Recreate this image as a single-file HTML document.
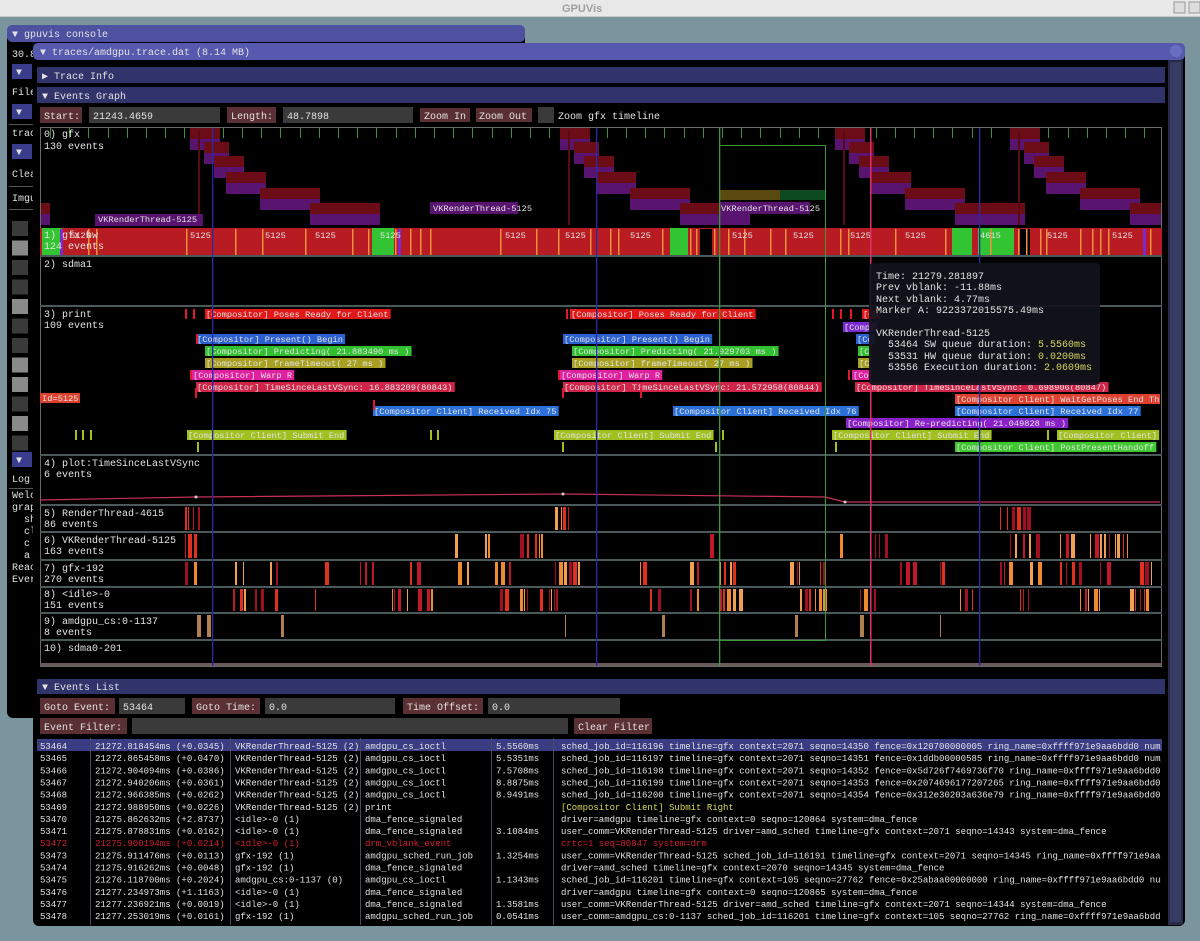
<!DOCTYPE html>
<html><head><meta charset="utf-8"><style>
html,body{margin:0;padding:0;background:#7a959d;width:1200px;height:941px;overflow:hidden}
svg{display:block}
text{font-family:"Liberation Mono",monospace;font-size:10px;fill:#e2e2e2}
.s{font-size:8.7px}
.t{font-size:9px}
</style></head><body>
<svg id="sv" width="1200" height="941" xmlns="http://www.w3.org/2000/svg">
<defs><clipPath id="tc"><rect x="37" y="738" width="1124" height="187"/></clipPath></defs>
<rect width="1200" height="941" fill="#7a959d"/>
<rect width="1200" height="17" fill="#e8e8e8"/>
<rect y="16" width="1200" height="1" fill="#c8c8c8"/>
<text x="562" y="12" style="font-family:'Liberation Sans',sans-serif;font-size:11px;font-weight:bold;fill:#a0a0a0">GPUVis</text>
<rect x="1174" y="2" width="11" height="11" fill="#ddd" stroke="#999"/><rect x="1189" y="2" width="11" height="11" fill="#ddd" stroke="#999"/>

<rect x="7" y="25" width="518" height="693" rx="6" fill="#000"/>
<rect x="7" y="25" width="518" height="17" rx="5" fill="#4d51a0"/>
<text x="12" y="37">▼ gpuvis console</text>
<text x="12" y="57">30.8</text>
<rect x="12" y="64" width="20" height="15" fill="#3a3d8e"/><text x="16" y="75">▼</text>
<text x="12" y="95">File</text>
<rect x="12" y="104" width="20" height="15" fill="#3a3d8e"/><text x="16" y="115">▼</text>
<rect x="9" y="124" width="24" height="1" fill="#555"/>
<text x="12" y="136">trac</text>
<rect x="12" y="144" width="20" height="15" fill="#3a3d8e"/><text x="16" y="155">▼</text>
<text x="12" y="177">Clea</text>
<rect x="9" y="186" width="24" height="1" fill="#555"/>
<text x="12" y="201">Imgu</text>
<rect x="9" y="209" width="24" height="1" fill="#555"/>
<g id="cbs"></g>
<rect x="12" y="452" width="20" height="15" fill="#3a3d8e"/><text x="16" y="463">▼</text>
<text x="12" y="482">Log</text>
<rect x="9" y="488" width="24" height="1" fill="#555"/>
<text x="12" y="498">Welc</text><text x="12" y="510">grap</text><text x="24" y="522">sh</text><text x="24" y="534">cl</text><text x="24" y="546">c</text><text x="24" y="558">a</text><text x="12" y="570">Reac</text><text x="12" y="582">Ever</text>

<rect x="33" y="43" width="1152" height="883" rx="6" fill="#000"/>
<rect x="33" y="43" width="1152" height="17" rx="5" fill="#5659ad"/>
<circle cx="1176" cy="51" r="6" fill="#6a6ec0"/>
<text x="40" y="55">▼ traces/amdgpu.trace.dat (8.14 MB)</text>
<rect x="1168" y="60" width="15" height="865" fill="#272b48"/>
<rect x="1170" y="62" width="11" height="860" fill="#363b62"/>
<rect x="37" y="67" width="1128" height="16" fill="#31336b"/>
<text x="42" y="79">▶ Trace Info</text>
<rect x="37" y="87" width="1128" height="16" fill="#31336b"/>
<text x="42" y="99">▼ Events Graph</text>
<rect x="40" y="107" width="42" height="16" fill="#5a3034"/><text x="44" y="119">Start:</text>
<rect x="89" y="107" width="131" height="16" fill="#3a3a3a"/><text x="93" y="119">21243.4659</text>
<rect x="227" y="107" width="49" height="16" fill="#5a3034"/><text x="231" y="119">Length:</text>
<rect x="283" y="107" width="130" height="16" fill="#3a3a3a"/><text x="287" y="119">48.7898</text>
<rect x="420" y="108" width="50" height="14" fill="#5a3034"/><text x="424" y="119">Zoom In</text>
<rect x="476" y="108" width="56" height="14" fill="#5a3034"/><text x="479" y="119">Zoom Out</text>
<rect x="538" y="107" width="16" height="16" fill="#3a3a3a"/><text x="558" y="119">Zoom gfx timeline</text>

<rect x="40.5" y="127.5" width="1121" height="539" fill="#000" stroke="#6a6a6a"/>
<g id="g0"></g>
<rect x="40" y="228" width="1122" height="27" fill="#b81b22"/>
<g id="hw"></g>
<g fill="#4a5a5a">
<rect x="40" y="255" width="1122" height="2"/><rect x="40" y="305" width="1122" height="2"/><rect x="40" y="454" width="1122" height="2"/><rect x="40" y="504" width="1122" height="2"/><rect x="40" y="531" width="1122" height="2"/><rect x="40" y="559" width="1122" height="2"/><rect x="40" y="586" width="1122" height="2"/><rect x="40" y="612" width="1122" height="2"/><rect x="40" y="639" width="1122" height="2"/><rect x="40" y="663" width="1122" height="3" fill="#6a5a5a"/>
</g>
<text x="44" y="137">0) gfx</text><text x="44" y="149">130 events</text>
<text x="44" y="238">1) gfx hw</text><text x="44" y="249">124 events</text>
<text x="44" y="267">2) sdma1</text>
<text x="44" y="317">3) print</text><text x="44" y="328">109 events</text>

<g id="pr"></g>
<text x="44" y="466">4) plot:TimeSinceLastVSync</text><text x="44" y="477">6 events</text>
<polyline points="40,500 196,497 563,494 825,497 845,502 1160,502" fill="none" stroke="#c8305a" stroke-width="1.2"/>
<circle cx="196" cy="497" r="1.5" fill="#ccc"/><circle cx="563" cy="494" r="1.5" fill="#ccc"/><circle cx="845" cy="502" r="1.5" fill="#ccc"/>
<g id="bars"></g>
<text x="44" y="516">5) RenderThread-4615</text><text x="44" y="527">86 events</text>
<text x="44" y="543">6) VKRenderThread-5125</text><text x="44" y="554">163 events</text>
<text x="44" y="571">7) gfx-192</text><text x="44" y="582">270 events</text>
<text x="44" y="597">8) &lt;idle&gt;-0</text><text x="44" y="608">151 events</text>
<text x="44" y="624">9) amdgpu_cs:0-1137</text><text x="44" y="635">8 events</text>
<text x="44" y="651">10) sdma0-201</text>

<rect x="212" y="128" width="1.3" height="538" fill="#2828a8"/>
<rect x="596" y="128" width="1.3" height="538" fill="#2828a8"/>
<rect x="979" y="128" width="1.3" height="538" fill="#2828a8"/>
<rect x="719" y="128" width="1.3" height="538" fill="#3a9a3a"/>
<rect x="719.5" y="145.5" width="106" height="495" fill="none" stroke="#3a9a3a"/>
<rect x="870" y="128" width="1.5" height="538" fill="#e0306a"/>

<rect x="869" y="263" width="231" height="122" rx="4" fill="#12121c" fill-opacity="0.93"/>
<text x="876" y="279">Time: 21279.281897</text>
<text x="876" y="290">Prev vblank: -11.88ms</text>
<text x="876" y="302">Next vblank: 4.77ms</text>
<text x="876" y="313">Marker A: 9223372015575.49ms</text>
<text x="876" y="336">VKRenderThread-5125</text>
<text x="888" y="347">53464 SW queue duration: <tspan style="fill:#d8d860">5.5560ms</tspan></text>
<text x="888" y="359">53531 HW queue duration: <tspan style="fill:#d8d860">0.0200ms</tspan></text>
<text x="888" y="370">53556 Execution duration: <tspan style="fill:#d8d860">2.0609ms</tspan></text>

<rect x="37" y="679" width="1128" height="15" fill="#31336b"/>
<text x="42" y="690">▼ Events List</text>
<rect x="40" y="698" width="75" height="16" fill="#5a3034"/><text x="44" y="710">Goto Event:</text>
<rect x="119" y="698" width="66" height="16" fill="#3a3a3a"/><text x="123" y="710">53464</text>
<rect x="192" y="698" width="68" height="16" fill="#5a3034"/><text x="196" y="710">Goto Time:</text>
<rect x="265" y="698" width="130" height="16" fill="#3a3a3a"/><text x="269" y="710">0.0</text>
<rect x="403" y="698" width="80" height="16" fill="#5a3034"/><text x="407" y="710">Time Offset:</text>
<rect x="488" y="698" width="132" height="16" fill="#3a3a3a"/><text x="492" y="710">0.0</text>
<rect x="40" y="718" width="87" height="16" fill="#5a3034"/><text x="44" y="730">Event Filter:</text>
<rect x="132" y="718" width="436" height="16" fill="#3a3a3a"/>
<rect x="574" y="718" width="78" height="16" fill="#5a3034"/><text x="578" y="730">Clear Filter</text>
<rect x="37" y="739" width="1125" height="12" fill="#3a3c84"/>
<g fill="#4a4a5a"><rect x="90" y="738" width="1" height="187"/><rect x="230" y="738" width="1" height="187"/><rect x="360" y="738" width="1" height="187"/><rect x="491" y="738" width="1" height="187"/><rect x="553" y="738" width="1" height="187"/></g>
<g id="tbl" clip-path="url(#tc)"></g>
</svg>
<script>
var NS="http://www.w3.org/2000/svg";
function R(g,x,y,w,h,f){var r=document.createElementNS(NS,"rect");r.setAttribute("x",x);r.setAttribute("y",y);r.setAttribute("width",w);r.setAttribute("height",h);r.setAttribute("fill",f);g.appendChild(r);return r;}
function T(g,x,y,s,cls,fill){var t=document.createElementNS(NS,"text");t.setAttribute("x",x);t.setAttribute("y",y);if(cls)t.setAttribute("class",cls);if(fill)t.setAttribute("style","fill:"+fill);t.textContent=s;g.appendChild(t);return t;}
var $=function(i){return document.getElementById(i)};
var cb=$("cbs"),lt=[0,1,0,0,1,0,0,1,1,0,1,0];
for(var i=0;i<12;i++)R(cb,12,221+i*19.5,16,15,lt[i]?"#8a8a8a":"#3a3a3a");
var g0=$("g0");
for(var x=50;x<1160;x+=19.2)R(g0,Math.round(x),128,1,10,"#3f8f3f");
var cyc=[-140,190,560,835,1010];
cyc.forEach(function(c){
 var st=[[0,128,30],[14,142,25],[24,156,30],[36,172,40],[70,188,60],[120,203,70]];
 st.forEach(function(s){var x=c+s[0];var w=s[2];if(x+w<41)return;if(x<41){w-=41-x;x=41;}if(x+w>1161)w=1161-x;if(w<=0)return;R(g0,x,s[1],w,11,"#6c0c16");R(g0,x,s[1]+11,w,11,"#58146e");});
 R(g0,c+8,130,2,95,"#5a0a12");
});
R(g0,720,190,60,10,"#5a4a10");R(g0,780,190,45,10,"#0e4a20");
R(g0,95,214,108,12,"#58146e");T(g0,98,222,"VKRenderThread-5125","s");
R(g0,430,202,88,12,"#58146e");T(g0,433,211,"VKRenderThread-5125","s");
R(g0,720,202,90,12,"#58146e");T(g0,721,211,"VKRenderThread-5125","s");
var hw=$("hw");
[[42,20],[372,22],[670,18],[952,20],[978,36]].forEach(function(b){R(hw,b[0],228,b[1],27,"#33c433");});
R(hw,700,229,12,26,"#000");R(hw,1020,229,10,26,"#000");
R(hw,398,229,3,26,"#7a2ad0");R(hw,1143,229,3,26,"#7a2ad0");R(hw,60,229,3,26,"#7a2ad0");
[88,96,186,235,262,305,352,368,395,410,420,430,500,536,558,590,610,618,662,690,696,714,728,744,770,785,840,848,895,945,990,1018,1026,1040,1046,1080,1092,1100,1108,1150].forEach(function(x){R(hw,x,229,1.5,26,"#f0903a");});
[["5125",190],["5125",265],["5125",315],["5125",380],["5125",505],["5125",565],["5125",630],["5125",732],["5125",793],["5125",850],["5125",905],["4615",980],["5125",1047],["5125",1112],["5125",70]].forEach(function(a){T(hw,a[1],238,a[0],"s");});
var pr=$("pr");
var L=[
[309,"#e01818",[[205,"[Compositor] Poses Ready for Client"],[570,"[Compositor] Poses Ready for Client"],[862,"[Co"]]],
[322,"#7a2ad0",[[843,"[Compo"]]],
[334,"#2a60d0",[[196,"[Compositor] Present() Begin"],[563,"[Compositor] Present() Begin"],[856,"[Co"]]],
[346,"#30c030",[[205,"[Compositor] Predicting( 21.883490 ms )"],[572,"[Compositor] Predicting( 21.929703 ms )"],[858,"[C"]]],
[358,"#a8a020",[[205,"[Compositor] frameTimeout( 27 ms )"],[572,"[Compositor] frameTimeout( 27 ms )"],[858,"[C"]]],
[370,"#e020a0",[[192,"[Compositor] Warp R"],[560,"[Compositor] Warp R"],[852,"[Co"]]],
[382,"#d02448",[[196,"[Compositor] TimeSinceLastVSync: 16.883209(80843)"],[563,"[Compositor] TimeSinceLastVSync: 21.572958(80844)"],[855,"[Compositor] TimeSinceLastVSync: 0.698906(80847)"]]],
[394,"#e04030",[[955,"[Compositor Client] WaitGetPoses End Th"]]],
[406,"#2a70d8",[[373,"[Compositor Client] Received Idx 75"],[673,"[Compositor Client] Received Idx 76"],[955,"[Compositor Client] Received Idx 77"]]],
[418,"#8a20c8",[[846,"[Compositor] Re-predicting( 21.049828 ms )"]]],
[430,"#a0c020",[[187,"[Compositor Client] Submit End"],[554,"[Compositor Client] Submit End"],[832,"[Compositor Client] Submit End"],[1057,"[Compositor Client]"]]],
[442,"#40c830",[[955,"[Compositor Client] PostPresentHandoff"]]]];
L.forEach(function(l){l[2].forEach(function(a){var w=Math.min(a[1].length*5.22+3,1160-a[0]);R(pr,a[0],l[0],w,10,l[1]);T(pr,a[0]+1,l[0]+8,a[1],"s");});});
R(pr,40,393,40,10,"#e04030");T(pr,42,401,"Id=5125","s");
[[185,309],[193,309],[566,309],[832,309],[840,309],[850,309],[196,334],[190,370],[558,370],[848,370],[195,388],[562,388],[640,388],[373,400],[75,430],[82,430],[90,430],[430,430],[437,430],[722,430],[1047,430],[197,442],[562,442],[715,442],[835,442]].forEach(function(a){R(pr,a[0],a[1],2,10,a[1]==430||a[1]==442?"#a0c020":"#e01830");});
var br=$("bars");var seed=7;function rnd(){seed=(seed*9301+49297)%233280;return seed/233280;}
var cols=["#f0a050","#a01020","#e03020","#f08a30","#c01828"];
var rows=[[507,23,[[185,200],[555,575],[1000,1030]]],[534,24,[[185,195],[455,460],[485,490],[520,545],[710,720],[840,845],[875,890],[1010,1040],[1060,1075],[1090,1130]]],[562,23,[[185,195],[235,245],[270,280],[325,330],[360,380],[410,420],[458,475],[495,510],[555,580],[640,650],[690,700],[720,740],[790,800],[820,830],[900,915],[940,950],[1000,1010],[1030,1040],[1060,1080],[1100,1110],[1140,1155]]],[589,22,[[233,245],[255,268],[275,278],[315,318],[392,410],[418,434],[500,510],[520,530],[540,560],[650,660],[690,700],[720,740],[800,830],[860,880],[960,975],[1020,1035],[1080,1100],[1130,1150]]],[615,22,[[197,199],[207,209],[281,283],[565,567],[662,664],[795,797],[860,862],[940,942]]]];
rows.forEach(function(r){r[2].forEach(function(s){var x=s[0];while(x<s[1]){var w=1+Math.floor(rnd()*4);R(br,x,r[0],w,r[1],r[0]==615?"#b08050":cols[Math.floor(rnd()*cols.length)]);x+=w+1+Math.floor(rnd()*6);}});});
var tb=$("tbl");
var D=[
["53464","21272.818454ms (+0.0345)","VKRenderThread-5125 (2)","amdgpu_cs_ioctl","5.5560ms","sched_job_id=116196 timeline=gfx context=2071 seqno=14350 fence=0x120700000005 ring_name=0xffff971e9aa6bdd0 num_i"],
["53465","21272.865458ms (+0.0470)","VKRenderThread-5125 (2)","amdgpu_cs_ioctl","5.5351ms","sched_job_id=116197 timeline=gfx context=2071 seqno=14351 fence=0x1ddb00000585 ring_name=0xffff971e9aa6bdd0 num_i"],
["53466","21272.904094ms (+0.0386)","VKRenderThread-5125 (2)","amdgpu_cs_ioctl","7.5708ms","sched_job_id=116198 timeline=gfx context=2071 seqno=14352 fence=0x5d726f7469736f70 ring_name=0xffff971e9aa6bdd0 r"],
["53467","21272.940206ms (+0.0361)","VKRenderThread-5125 (2)","amdgpu_cs_ioctl","8.8875ms","sched_job_id=116199 timeline=gfx context=2071 seqno=14353 fence=0x2074696177207265 ring_name=0xffff971e9aa6bdd0 r"],
["53468","21272.966385ms (+0.0262)","VKRenderThread-5125 (2)","amdgpu_cs_ioctl","8.9491ms","sched_job_id=116200 timeline=gfx context=2071 seqno=14354 fence=0x312e30203a636e79 ring_name=0xffff971e9aa6bdd0 r"],
["53469","21272.988950ms (+0.0226)","VKRenderThread-5125 (2)","print","","[Compositor Client] Submit Right"],
["53470","21275.862632ms (+2.8737)","<idle>-0 (1)","dma_fence_signaled","","driver=amdgpu timeline=gfx context=0 seqno=120864 system=dma_fence"],
["53471","21275.878831ms (+0.0162)","<idle>-0 (1)","dma_fence_signaled","3.1084ms","user_comm=VKRenderThread-5125 driver=amd_sched timeline=gfx context=2071 seqno=14343 system=dma_fence"],
["53472","21275.900194ms (+0.0214)","<idle>-0 (1)","drm_vblank_event","","crtc=1 seq=80847 system=drm"],
["53473","21275.911476ms (+0.0113)","gfx-192 (1)","amdgpu_sched_run_job","1.3254ms","user_comm=VKRenderThread-5125 sched_job_id=116191 timeline=gfx context=2071 seqno=14345 ring_name=0xffff971e9aa6b"],
["53474","21275.916262ms (+0.0048)","gfx-192 (1)","dma_fence_signaled","","driver=amd_sched timeline=gfx context=2070 seqno=14345 system=dma_fence"],
["53475","21276.118700ms (+0.2024)","amdgpu_cs:0-1137 (0)","amdgpu_cs_ioctl","1.1343ms","sched_job_id=116201 timeline=gfx context=105 seqno=27762 fence=0x25abaa00000000 ring_name=0xffff971e9aa6bdd0 num"],
["53476","21277.234973ms (+1.1163)","<idle>-0 (1)","dma_fence_signaled","","driver=amdgpu timeline=gfx context=0 seqno=120865 system=dma_fence"],
["53477","21277.236921ms (+0.0019)","<idle>-0 (1)","dma_fence_signaled","1.3581ms","user_comm=VKRenderThread-5125 driver=amd_sched timeline=gfx context=2071 seqno=14344 system=dma_fence"],
["53478","21277.253019ms (+0.0161)","gfx-192 (1)","amdgpu_sched_run_job","0.0541ms","user_comm=amdgpu_cs:0-1137 sched_job_id=116201 timeline=gfx context=105 seqno=27762 ring_name=0xffff971e9aa6bdd0"],
["53479","21277.257031ms (+0.0040)","gfx-192 (1)","dma_fence_signaled","","driver=amd_sched timeline=gfx context=105 seqno=27761 system=dma_fence"]];
var xs=[40,95,235,365,496,561];
D.forEach(function(r,i){var y=749+i*12.15;var f=i==8?"#d02030":(i==5?"#d8d860":null);r.forEach(function(s,j){if(!s)return;T(tb,xs[j],y,s,"t",(j==5||i==8)?f:null);});});
</script>
</body></html>
